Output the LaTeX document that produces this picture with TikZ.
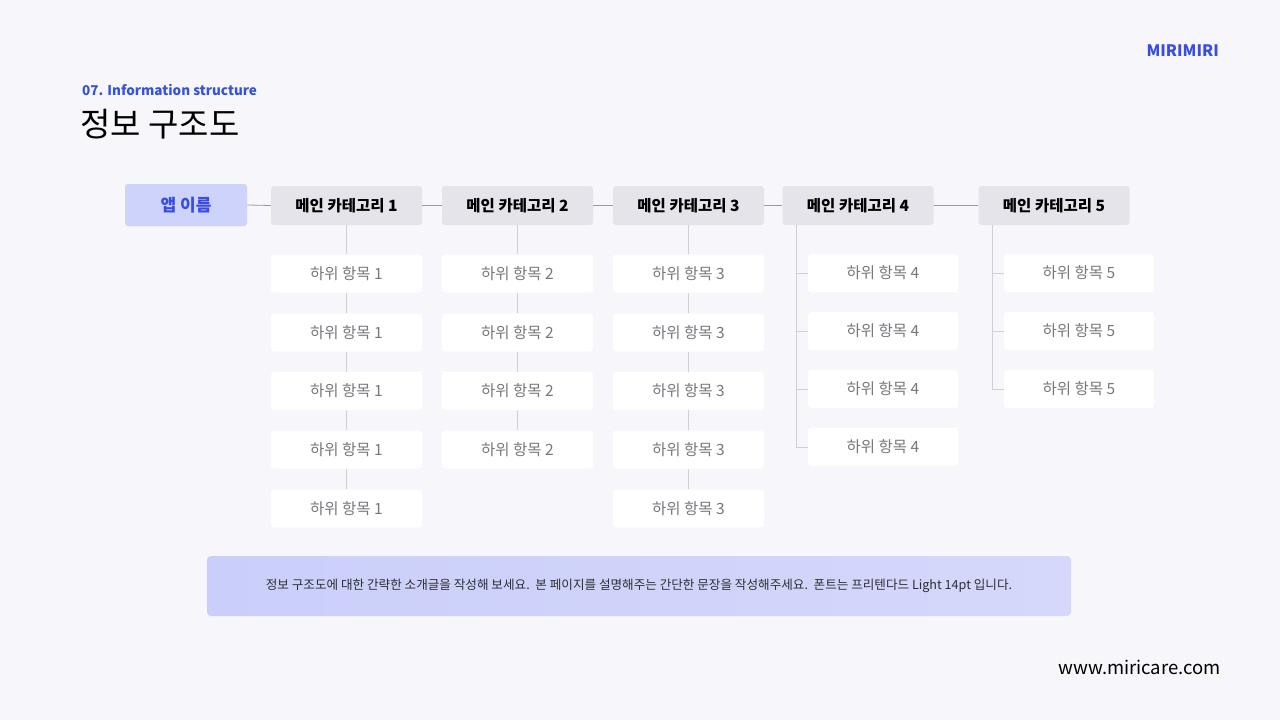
\documentclass[tikz,border=0pt]{standalone}
\usepackage{fontspec}
\setmainfont{Noto Sans CJK KR}
\definecolor{bgc}{HTML}{F6F6FB}
\definecolor{appfill}{HTML}{CDD3FB}
\definecolor{appblue}{HTML}{3A4DE0}
\definecolor{mainfill}{HTML}{E4E4EA}
\definecolor{subtext}{HTML}{77777D}
\definecolor{linec}{HTML}{9A9AA0}
\definecolor{vlinec}{HTML}{CFCFD5}
\definecolor{titleblue}{HTML}{3552DD}
\definecolor{descL}{HTML}{CACFFA}
\definecolor{descR}{HTML}{D5D8FA}
\definecolor{desctext}{HTML}{2E2E33}
\begin{document}
\begin{tikzpicture}[x=1pt,y=-1pt,
  appbox/.style={fill=appfill, rounded corners=3pt, minimum width=122pt, minimum height=42pt, inner sep=0pt, text=appblue, font=\fontsize{17}{20}\selectfont\bfseries},
  mainbox/.style={fill=mainfill, rounded corners=3pt, minimum width=151pt, minimum height=39pt, inner sep=0pt, text=black, font=\fontsize{15.5}{18}\selectfont\bfseries},
  subbox/.style={fill=white, rounded corners=3pt, minimum width=151pt, minimum height=38pt, inner sep=0pt, text=subtext, font=\fontsize{15.5}{18}\selectfont},
  hlink/.style={draw=linec, line width=0.8pt},
  vlink/.style={draw=vlinec, line width=0.9pt}
]
\useasboundingbox (0,0) rectangle (1280,720);
\fill[bgc] (0,0) rectangle (1280,720);

% header
\node[anchor=west, inner sep=0pt, text=titleblue, font=\fontsize{13.5}{16}\selectfont\bfseries] (sub) at (82,90) {07. Information structure};
\node[anchor=west, inner sep=0pt, text=black, font=\fontsize{33}{38}\selectfont] (title) at (80,124) {정보 구조도};
\node[anchor=east, inner sep=0pt, text=appblue, font=\fontsize{15.8}{18}\selectfont\bfseries] (logo) at (1219,51) {MIRIMIRI};
\node[anchor=east, inner sep=0pt, text=black, font=\fontsize{18.5}{22}\selectfont] (url) at (1221,667) {www.miricare.com};

% top row
\node[appbox] (app) at (186,205) {앱 이름};
\node[mainbox] (m1) at (346.5,205.5) {메인 카테고리 1};
\node[mainbox] (m2) at (517.5,205.5) {메인 카테고리 2};
\node[mainbox] (m3) at (688.5,205.5) {메인 카테고리 3};
\node[mainbox] (m4) at (858,205.5) {메인 카테고리 4};
\node[mainbox] (m5) at (1054,205.5) {메인 카테고리 5};

\draw[hlink] (app.east) -- (m1.west);
\draw[hlink] (m1.east) -- (m2.west);
\draw[hlink] (m2.east) -- (m3.west);
\draw[hlink] (m3.east) -- (m4.west);
\draw[hlink] (m4.east) -- (m5.west);

% column 1
\foreach \i/\y in {1/273.5,2/332.5,3/391,4/449.5,5/508.5}{
  \node[subbox] (s1\i) at (346.5,\y) {하위 항목 1};
}
% column 2
\foreach \i/\y in {1/273.5,2/332.5,3/391,4/449.5}{
  \node[subbox] (s2\i) at (517.5,\y) {하위 항목 2};
}
% column 3
\foreach \i/\y in {1/273.5,2/332.5,3/391,4/449.5,5/508.5}{
  \node[subbox] (s3\i) at (688.5,\y) {하위 항목 3};
}
% column 4
\foreach \i/\y in {1/273,2/331,3/389,4/447}{
  \node[subbox, minimum width=150pt] (s4\i) at (883,\y) {하위 항목 4};
}
% column 5
\foreach \i/\y in {1/273,2/331,3/389}{
  \node[subbox, minimum width=150pt] (s5\i) at (1079,\y) {하위 항목 5};
}

% vertical links cols 1-3
\draw[vlink] (m1.south) -- (s11.north);
\draw[vlink] (s11.south) -- (s12.north);
\draw[vlink] (s12.south) -- (s13.north);
\draw[vlink] (s13.south) -- (s14.north);
\draw[vlink] (s14.south) -- (s15.north);
\draw[vlink] (m2.south) -- (s21.north);
\draw[vlink] (s21.south) -- (s22.north);
\draw[vlink] (s22.south) -- (s23.north);
\draw[vlink] (s23.south) -- (s24.north);
\draw[vlink] (m3.south) -- (s31.north);
\draw[vlink] (s31.south) -- (s32.north);
\draw[vlink] (s32.south) -- (s33.north);
\draw[vlink] (s33.south) -- (s34.north);
\draw[vlink] (s34.south) -- (s35.north);

% tree links cols 4-5
\coordinate (t4) at ([xshift=14pt]m4.south west);
\coordinate (t5) at ([xshift=14pt]m5.south west);
\foreach \i in {1,...,4}{ \draw[vlink] (t4) |- (s4\i.west); }
\foreach \i in {1,...,3}{ \draw[vlink] (t5) |- (s5\i.west); }

% description
\node[left color=descL, right color=descR, rounded corners=4pt, minimum width=864pt, minimum height=60pt, inner sep=0pt, text=desctext, font=\fontsize{12.6}{15}\selectfont] (desc) at (639,586) {정보 구조도에 대한 간략한 소개글을 작성해 보세요.\ \ 본 페이지를 설명해주는 간단한 문장을 작성해주세요.\ \ 폰트는 프리텐다드 Light 14pt 입니다.};
\end{tikzpicture}
\end{document}
